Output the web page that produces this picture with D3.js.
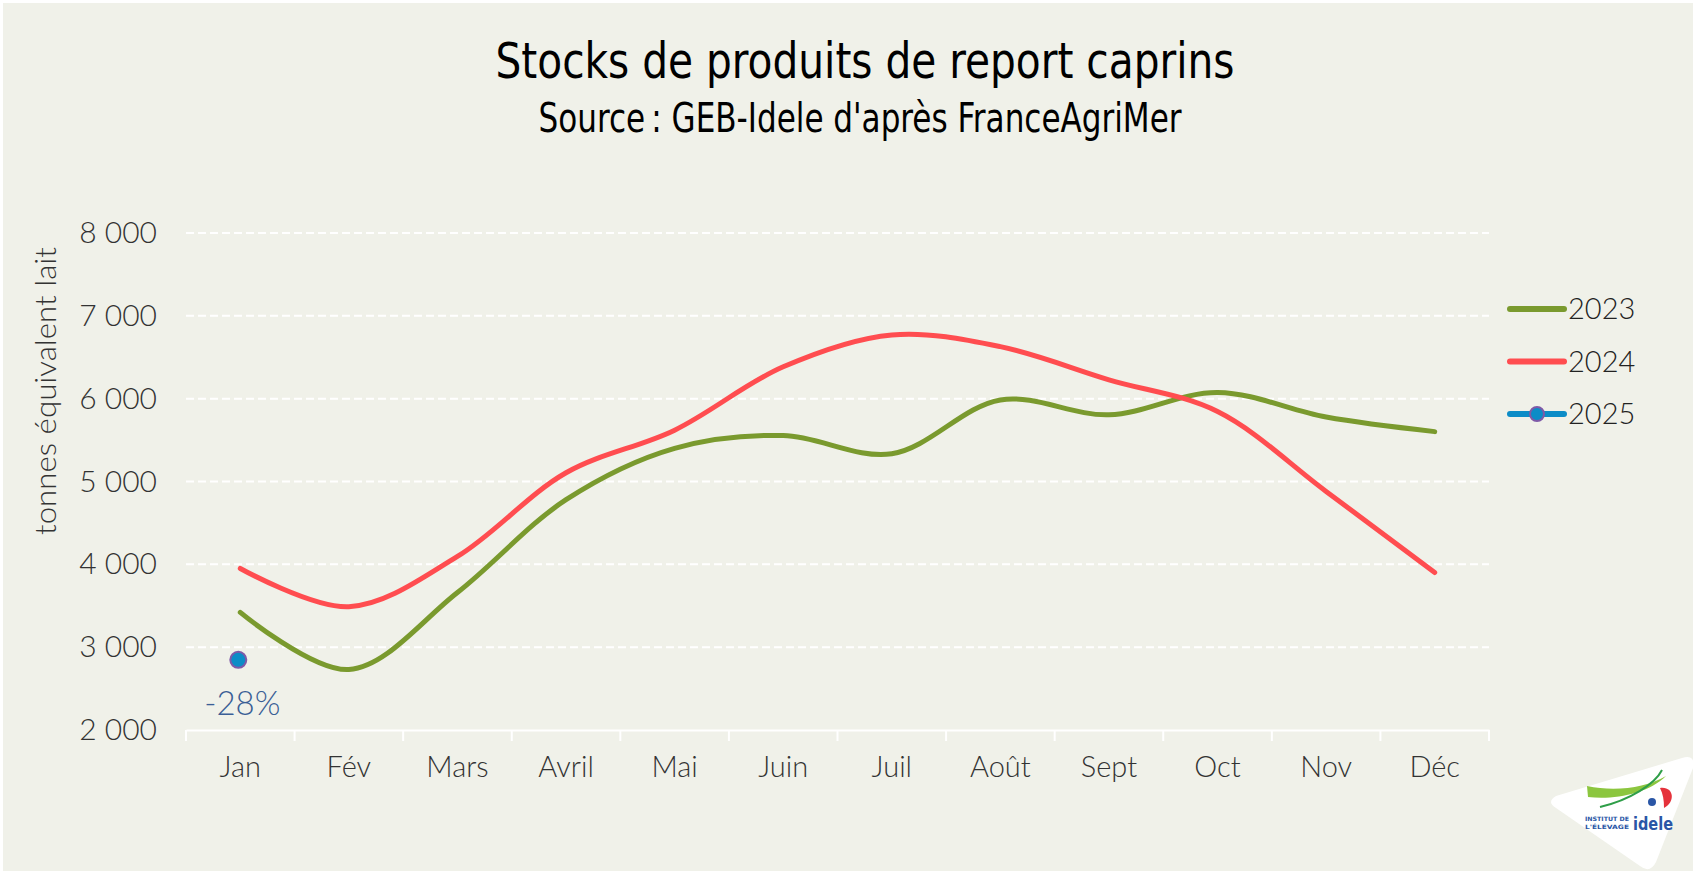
<!DOCTYPE html>
<html>
<head>
<meta charset="utf-8">
<script src="https://cdn.jsdelivr.net/npm/d3@7"></script>
<style>
  html, body { margin: 0; padding: 0; background: #ffffff; }
  svg { display: block; }
</style>
</head>
<body>
<div id="chart"></div>
<script>
// Data (tonnes équivalent lait)
const months = ["Jan", "Fév", "Mars", "Avril", "Mai", "Juin", "Juil", "Août", "Sept", "Oct", "Nov", "Déc"];
const stocks2023 = [3420, 2730, 3660, 4780, 5400, 5555, 5335, 5985, 5805, 6075, 5778, 5602];
const stocks2024 = [3950, 3488, 4095, 5106, 5620, 6385, 6770, 6628, 6228, 5845, 4880, 3900];
const stocks2025 = [2847];
const yTicks = [2000, 3000, 4000, 5000, 6000, 7000, 8000];

const series = [
  {name: "2023", values: stocks2023, color: "#7A9A2E"},
  {name: "2024", values: stocks2024, color: "#FF4D50"},
  {name: "2025", values: stocks2025, color: "#0C8CC7"}
];

const width = 1696, height = 874;
const margin = {top: 233, right: 207, bottom: 144, left: 186};

const svg = d3.select("#chart").append("svg")
    .attr("width", width)
    .attr("height", height);

// background
svg.append("rect")
    .attr("x", 3).attr("y", 3)
    .attr("width", width - 6).attr("height", height - 6)
    .attr("fill", "#F0F1E9");

const x = d3.scaleBand()
    .domain(months)
    .range([margin.left, width - margin.right]);

const y = d3.scaleLinear()
    .domain([2000, 8000])
    .range([height - margin.bottom, margin.top]);

const fontTick = "Lato, 'Open Sans', sans-serif";
const fontTitle = "'DejaVu Sans Condensed', 'Liberation Sans Narrow', sans-serif";

// gridlines
svg.append("g")
  .selectAll("line")
  .data(yTicks.filter(d => d > 2000))
  .join("line")
    .attr("x1", margin.left)
    .attr("x2", width - margin.right)
    .attr("y1", d => y(d))
    .attr("y2", d => y(d))
    .attr("stroke", "#ffffff")
    .attr("stroke-width", 2)
    .attr("stroke-dasharray", "8,4");

// y axis labels
const yAxis = svg.append("g")
    .attr("transform", `translate(${margin.left},0)`)
    .call(d3.axisLeft(y).tickValues(yTicks).tickSize(0).tickPadding(29)
      .tickFormat(d => d3.format(",")(d).replace(",", " ")));
yAxis.select(".domain").remove();
yAxis.selectAll("text")
    .attr("fill", "#333333")
    .style("font-family", fontTick)
    .style("font-weight", 300)
    .style("font-size", "30px");

// x axis
const xAxis = svg.append("g")
    .attr("transform", `translate(0,${height - margin.bottom})`)
    .call(d3.axisBottom(x).tickSize(0).tickPadding(26));
xAxis.select(".domain").attr("stroke", "#ffffff").attr("stroke-width", 2);
xAxis.selectAll("text")
    .attr("fill", "#333333")
    .style("font-family", fontTick)
    .style("font-weight", 300)
    .style("font-size", "29px");
xAxis.append("g")
  .selectAll("line")
  .data(months.concat([null]))
  .join("line")
    .attr("x1", (d, i) => margin.left + i * x.step())
    .attr("x2", (d, i) => margin.left + i * x.step())
    .attr("y1", 0).attr("y2", 11)
    .attr("stroke", "#ffffff")
    .attr("stroke-width", 2);

// y axis title
svg.append("text")
    .attr("transform", "translate(56,391) rotate(-90)")
    .attr("text-anchor", "middle")
    .attr("fill", "#333333")
    .attr("textLength", 288)
    .attr("lengthAdjust", "spacingAndGlyphs")
    .style("font-family", fontTick)
    .style("font-weight", 300)
    .style("font-size", "29px")
    .text("tonnes équivalent lait");

// lines
const line = d3.line()
    .x((d, i) => x(months[i]) + x.bandwidth() / 2)
    .y(d => y(d))
    .curve(d3.curveCatmullRom.alpha(0.5));

svg.append("g")
  .selectAll("path")
  .data(series.filter(s => s.values.length > 1))
  .join("path")
    .attr("d", d => line(d.values))
    .attr("fill", "none")
    .attr("stroke", d => d.color)
    .attr("stroke-width", 5)
    .attr("stroke-linecap", "round");

// 2025 point
svg.append("g")
  .selectAll("circle")
  .data(stocks2025)
  .join("circle")
    .attr("cx", (d, i) => x(months[i]) + x.bandwidth() / 2 - 2)
    .attr("cy", d => y(d))
    .attr("r", 8)
    .attr("fill", "#0C8CC7")
    .attr("stroke", "#7E5AA8")
    .attr("stroke-width", 2);

// variation label
svg.append("text")
    .attr("x", x(months[0]) + x.bandwidth() / 2 + 2)
    .attr("y", y(stocks2025[0]) + 55)
    .attr("text-anchor", "middle")
    .attr("fill", "#3B5F96")
    .style("font-family", fontTick)
    .style("font-weight", 300)
    .style("font-size", "33px")
    .text(d3.format(".0%")(stocks2025[0] / stocks2024[0] - 1).replace("−", "-"));

// legend
const legend = svg.append("g")
  .selectAll("g")
  .data(series)
  .join("g")
    .attr("transform", (d, i) => `translate(1510,${309 + i * 52.5})`);
legend.append("line")
    .attr("x1", 0).attr("x2", 54)
    .attr("stroke", d => d.color)
    .attr("stroke-width", 6)
    .attr("stroke-linecap", "round");
legend.filter(d => d.name === "2025").append("circle")
    .attr("cx", 27).attr("r", 7)
    .attr("fill", "#0C8CC7")
    .attr("stroke", "#7E5AA8")
    .attr("stroke-width", 2);
legend.append("text")
    .attr("x", 58)
    .attr("dy", "0.35em")
    .attr("fill", "#222222")
    .style("font-family", fontTick)
    .style("font-weight", 300)
    .style("font-size", "29px")
    .text(d => d.name);

// titles
svg.append("text")
    .attr("x", 865).attr("y", 78)
    .attr("text-anchor", "middle")
    .attr("fill", "#000000")
    .attr("textLength", 739)
    .attr("lengthAdjust", "spacingAndGlyphs")
    .style("font-family", fontTitle)
    .style("font-size", "50px")
    .text("Stocks de produits de report caprins");
svg.append("text")
    .attr("x", 860).attr("y", 132)
    .attr("text-anchor", "middle")
    .attr("fill", "#000000")
    .attr("textLength", 643)
    .attr("lengthAdjust", "spacingAndGlyphs")
    .style("font-family", fontTitle)
    .style("font-size", "40px")
    .text("Source\u202F: GEB-Idele d'après FranceAgriMer");

// logo badge (bottom right)
const logo = svg.append("g");
logo.append("path")
    .attr("d", "M1556,796 L1682,758 Q1696,754 1693,768 L1656,862 Q1650,874 1640,866 L1556,808 Q1546,802 1556,796 Z")
    .attr("fill", "#ffffff");
logo.append("path")
    .attr("d", "M1587,786 C1615,792 1645,788 1666,776 C1648,794 1614,800 1588,797 Z")
    .attr("fill", "#8CC63F");
logo.append("path")
    .attr("d", "M1600,807 C1630,800 1655,784 1662,770")
    .attr("fill", "none")
    .attr("stroke", "#2E9E48")
    .attr("stroke-width", 2);
logo.append("path")
    .attr("d", "M1660,788 C1674,786 1676,802 1664,808 C1664,800 1663,794 1660,788 Z")
    .attr("fill", "#E5323B");
logo.append("circle")
    .attr("cx", 1652).attr("cy", 802).attr("r", 4)
    .attr("fill", "#2A56A6");
logo.append("text")
    .attr("x", 1633).attr("y", 830)
    .attr("fill", "#2A56A6")
    .attr("textLength", 40)
    .attr("lengthAdjust", "spacingAndGlyphs")
    .style("font-family", "'DejaVu Sans', sans-serif")
    .style("font-weight", 700)
    .style("font-size", "17px")
    .text("idele");
logo.append("text")
    .attr("x", 1585).attr("y", 821)
    .attr("fill", "#2A56A6")
    .attr("textLength", 44)
    .attr("lengthAdjust", "spacingAndGlyphs")
    .style("font-family", "'DejaVu Sans', sans-serif")
    .style("font-weight", 700)
    .style("font-size", "6px")
    .text("INSTITUT DE");
logo.append("text")
    .attr("x", 1585).attr("y", 829)
    .attr("fill", "#2A56A6")
    .attr("textLength", 44)
    .attr("lengthAdjust", "spacingAndGlyphs")
    .style("font-family", "'DejaVu Sans', sans-serif")
    .style("font-weight", 700)
    .style("font-size", "6px")
    .text("L'ÉLEVAGE");
</script>
</body>
</html>
